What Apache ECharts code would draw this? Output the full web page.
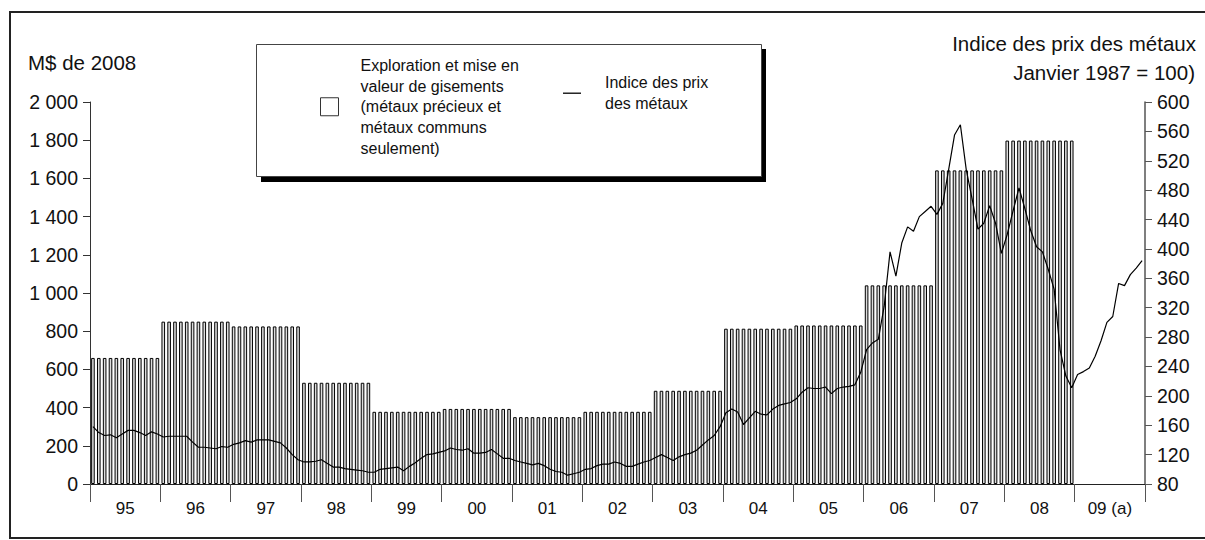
<!DOCTYPE html>
<html>
<head>
<meta charset="utf-8">
<title>Exploration et mise en valeur de gisements</title>
<script src="https://cdn.jsdelivr.net/npm/echarts@6/dist/echarts.min.js"></script>
<style>
  html, body { margin: 0; padding: 0; background: #fff; }
  #chart { width: 1205px; height: 540px; }
</style>
</head>
<body>
<div id="chart"></div>
<script>
// Year labels on the horizontal axis
const years = ['95', '96', '97', '98', '99', '00', '01', '02', '03', '04', '05', '06', '07', '08', '09 (a)'];

// Exploration and deposit appraisal spending, M$ of 2008 (one value per year)
const spending = [660, 850, 825, 530, 378, 393, 350, 378, 488, 813, 830, 1040, 1642, 1798, null];

// Metal price index, monthly (January 1987 = 100)
const priceIndex = [
  158, 150, 146, 147, 143, 148, 153, 153, 150, 146, 151, 148, // 1995
  144, 145, 145, 145, 145, 137, 130, 130, 129, 128, 131, 130, // 1996
  134, 136, 139, 137, 140, 140, 140, 138, 136, 129, 120, 113, // 1997
  110, 110, 111, 113, 108, 103, 103, 101, 100,  99,  98,  96, // 1998
   96, 100, 101, 102, 103,  98, 104, 109, 115, 120, 121, 123, // 1999
  125, 129, 127, 126, 128, 122, 122, 123, 127, 121, 115, 115, // 2000
  112, 110, 108, 106, 108, 105, 100,  97,  96,  92,  94,  96, // 2001
  100, 101, 105, 107, 107, 110, 108, 104, 104, 107, 110, 112, // 2002
  116, 120, 116, 112, 117, 120, 122, 126, 133, 140, 146, 158, // 2003
  177, 182, 178, 161, 170, 179, 175, 174, 182, 187, 189, 191, // 2004
  196, 205, 211, 210, 210, 212, 203, 210, 212, 213, 215, 232, // 2005
  263, 272, 277, 322, 396, 363, 408, 430, 424, 444, 451, 458, // 2006
  447, 462, 508, 555, 569, 508, 468, 427, 435, 459, 435, 394, // 2007
  420, 452, 483, 455, 425, 403, 396, 372, 345, 263, 227, 211, // 2008
  229, 233, 238, 254, 275, 300, 308, 353, 350, 365, 374, 384  // 2009
];

// Axis ranges
const leftAxis = { min: 0, max: 2000, step: 200 };
const rightAxis = { min: 80, max: 600, step: 40 };

const barName = 'Exploration et mise en\nvaleur de gisements\n(métaux précieux et\nmétaux communs\nseulement)';
const lineName = 'Indice des prix\ndes métaux';
const FONT = '"Liberation Sans", Arial, Helvetica, sans-serif';

// Monthly categories: each year's spending is shown as twelve monthly bars
const months = [];
const monthlySpending = [];
years.forEach(function (y, i) {
  for (let m = 0; m < 12; m++) {
    months.push(y + '-' + (m + 1));
    monthlySpending.push(spending[i]);
  }
});

function spaced(v) {
  return String(v).replace(/\B(?=(\d{3})+(?!\d))/g, ' ');
}

const chart = echarts.init(document.getElementById('chart'), null, { renderer: 'svg' });

chart.setOption({
  animation: false,
  backgroundColor: '#fff',
  textStyle: { fontFamily: FONT, color: '#000' },
  grid: { left: 90, right: 60, top: 102, bottom: 56, containLabel: false },
  legend: [
    {
      data: [barName],
      left: 320,
      top: 55,
      padding: 0,
      itemWidth: 18,
      itemHeight: 18,
      icon: 'rect',
      selectedMode: false,
      itemStyle: { color: '#fff', borderColor: '#333', borderWidth: 1 },
      textStyle: { fontFamily: FONT, fontSize: 16, lineHeight: 20.7, color: '#111', padding: [0, 0, 0, 17] }
    },
    {
      data: [lineName],
      left: 563,
      top: 56,
      padding: 0,
      itemWidth: 18,
      itemHeight: 1.3,
      icon: 'rect',
      selectedMode: false,
      itemStyle: { color: '#000', borderWidth: 0 },
      textStyle: { fontFamily: FONT, fontSize: 16, lineHeight: 20.7, color: '#111', padding: [0, 0, 33, 19] }
    }
  ],
  xAxis: [
    {
      type: 'category',
      data: months,
      boundaryGap: true,
      position: 'bottom',
      axisLine: { show: true, lineStyle: { color: '#222', width: 1 } },
      axisTick: { show: false },
      axisLabel: { show: false },
      splitLine: { show: false }
    },
    {
      type: 'category',
      data: years,
      boundaryGap: true,
      position: 'bottom',
      axisLine: { show: false },
      axisTick: { show: true, length: 18, lineStyle: { color: '#555', width: 1 } },
      axisLabel: { show: true, interval: 0, margin: 16, fontSize: 17, fontFamily: FONT, color: '#111' },
      splitLine: { show: false }
    }
  ],
  yAxis: [
    {
      type: 'value',
      position: 'left',
      min: leftAxis.min,
      max: leftAxis.max,
      interval: leftAxis.step,
      axisLine: { show: true, lineStyle: { color: '#333', width: 1 } },
      axisTick: { show: true, length: 7, lineStyle: { color: '#333' } },
      axisLabel: { margin: 12, fontSize: 19.5, fontFamily: FONT, color: '#111', formatter: spaced },
      splitLine: { show: false }
    },
    {
      type: 'value',
      position: 'right',
      min: rightAxis.min,
      max: rightAxis.max,
      interval: rightAxis.step,
      axisLine: { show: true, lineStyle: { color: '#555', width: 1.5 } },
      axisTick: { show: true, length: 7, lineStyle: { color: '#555' } },
      axisLabel: { margin: 12, fontSize: 19.5, fontFamily: FONT, color: '#111' },
      splitLine: { show: false }
    }
  ],
  graphic: [
    // outer frame
    {
      type: 'rect', z: 0, silent: true,
      shape: { x: 10, y: 12, width: 1205, height: 526 },
      style: { fill: 'none', stroke: '#222', lineWidth: 2 }
    },
    // legend box shadow and box
    {
      type: 'rect', z: 1, silent: true,
      shape: { x: 261, y: 49, width: 505, height: 133 },
      style: { fill: '#000' }
    },
    {
      type: 'rect', z: 1, silent: true,
      shape: { x: 256.5, y: 44.5, width: 505, height: 132 },
      style: { fill: '#fff', stroke: '#444', lineWidth: 1 }
    },
    // axis titles
    {
      type: 'text', z: 5, silent: true,
      style: { x: 28, y: 62, text: 'M$ de 2008', fill: '#111', font: '20.5px ' + FONT, textAlign: 'left', textVerticalAlign: 'middle' }
    },
    {
      type: 'text', z: 5, silent: true,
      style: { x: 1196, y: 43, text: 'Indice des prix des métaux', fill: '#111', font: '20.5px ' + FONT, textAlign: 'right', textVerticalAlign: 'middle' }
    },
    {
      type: 'text', z: 5, silent: true,
      style: { x: 1195, y: 72, text: 'Janvier 1987 = 100)', fill: '#111', font: '20.5px ' + FONT, textAlign: 'right', textVerticalAlign: 'middle' }
    }
  ],
  series: [
    {
      name: barName,
      type: 'bar',
      xAxisIndex: 0,
      yAxisIndex: 0,
      data: monthlySpending,
      barWidth: 3.6,
      itemStyle: { color: '#dcdcdc', borderColor: '#000', borderWidth: 1 },
      emphasis: { disabled: true }
    },
    {
      name: lineName,
      type: 'line',
      xAxisIndex: 0,
      yAxisIndex: 1,
      data: priceIndex,
      symbol: 'none',
      smooth: false,
      z: 3,
      lineStyle: { color: '#000', width: 1.2 },
      itemStyle: { color: '#000' },
      emphasis: { disabled: true }
    }
  ]
});
</script>
</body>
</html>
